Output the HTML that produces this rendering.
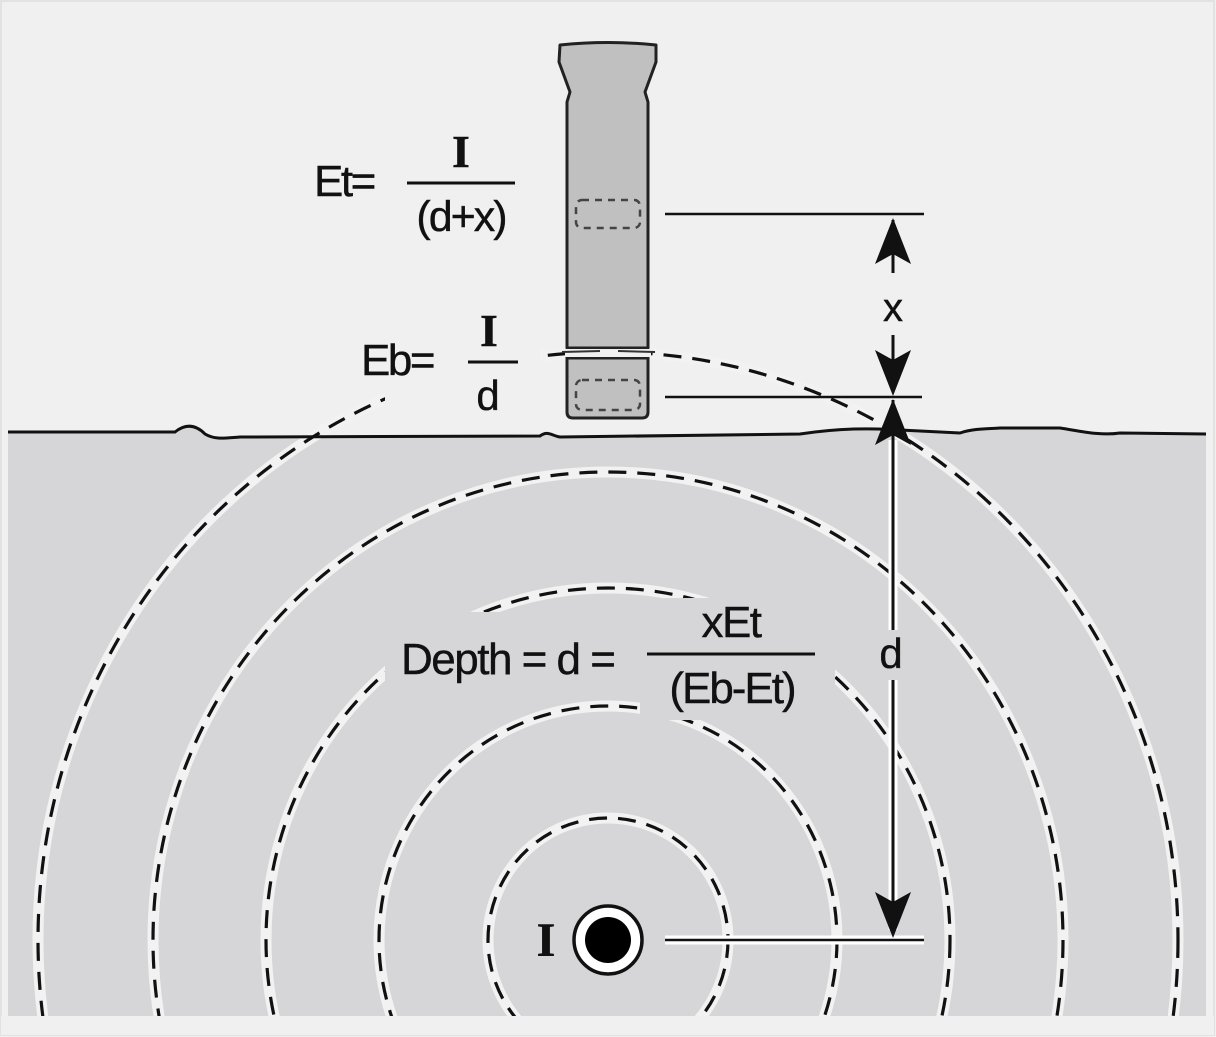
<!DOCTYPE html>
<html><head><meta charset="utf-8"><style>
html,body{margin:0;padding:0;background:#f0f0f0;overflow:hidden;width:1216px;height:1037px;}
svg{display:block;position:absolute;left:0;top:0;}
text{font-family:"Liberation Sans",sans-serif;fill:#111;stroke:#111;stroke-width:0.4;}
.serif{font-family:"Liberation Serif",serif;font-weight:bold;}
</style></head><body>
<svg width="1216" height="1037" viewBox="0 0 1216 1037" xmlns="http://www.w3.org/2000/svg">
<defs>
<clipPath id="cl"><rect x="8" y="0" width="1198" height="1016"/></clipPath>
</defs>
<rect x="0" y="0" width="1216" height="1037" fill="#f0f0f0"/>
<rect x="1" y="1" width="1213" height="1034" fill="none" stroke="#e2e2e2" stroke-width="2"/>
<path d="M8,432 L175,432 C185,424 195,424 205,434 C215,440 225,438 240,437 L540,436 C548,430 552,436 560,437 L800,434 C840,428 870,428 900,430 L960,433 C975,428 990,429 1000,428 L1060,428 C1080,431 1100,436 1120,433 L1206,434 L1206,1016 L8,1016 Z" fill="#d6d6d8"/>
<g clip-path="url(#cl)" fill="none">
 <g stroke="#f2f2f2" stroke-width="11">
  <ellipse cx="608" cy="940" rx="120" ry="122"/>
  <ellipse cx="608" cy="940" rx="229" ry="234"/>
  <ellipse cx="608" cy="940" rx="342" ry="352"/>
  <ellipse cx="608" cy="940" rx="455" ry="468"/>
  <ellipse cx="608" cy="940" rx="570" ry="588"/>
 </g>
 <g stroke="#111" stroke-width="3.2" stroke-dasharray="18 11">
  <ellipse cx="608" cy="940" rx="120" ry="122"/>
  <ellipse cx="608" cy="940" rx="229" ry="234"/>
  <ellipse cx="608" cy="940" rx="342" ry="352"/>
  <ellipse cx="608" cy="940" rx="455" ry="468"/>
  <ellipse cx="608" cy="940" rx="570" ry="588"/>
 </g>
</g>
<rect x="385" y="612" width="255" height="82" fill="#d6d6d8"/>
<rect x="640" y="598" width="195" height="122" fill="#d6d6d8"/>
<rect x="385" y="318" width="155" height="100" fill="#f0f0f0"/>
<rect x="1" y="1016" width="1213" height="19" fill="#f0f0f0"/>
<path d="M8,432 L175,432 C185,424 195,424 205,434 C215,440 225,438 240,437 L540,436 C548,430 552,436 560,437 L800,434 C840,428 870,428 900,430 L960,433 C975,428 990,429 1000,428 L1060,428 C1080,431 1100,436 1120,433 L1206,434" fill="none" stroke="#111" stroke-width="3"/>
<path d="M560,45 Q608,40 656,45 L656,62 L645,92 L648,102 L648,348 L567,348 L567,102 L570,92 L559,62 Z" fill="#c0c0c0" stroke="#222" stroke-width="3" stroke-linejoin="round"/>
<path d="M567,358 L648,358 L648,412 Q648,418 642,418 L573,418 Q567,418 567,412 Z" fill="#c0c0c0" stroke="#222" stroke-width="3"/>
<rect x="565" y="349" width="86" height="8" fill="#f0f0f0"/>
<path d="M562,352 L600,351 M618,351 L655,352" stroke="#333" stroke-width="2"/>
<rect x="576" y="200" width="64" height="28" rx="6" fill="none" stroke="#444" stroke-width="2.5" stroke-dasharray="7 6"/>
<rect x="576" y="380" width="64" height="30" rx="6" fill="none" stroke="#444" stroke-width="2.5" stroke-dasharray="7 6"/>
<line x1="665" y1="214" x2="924" y2="214" stroke="#111" stroke-width="2.5"/>
<line x1="665" y1="397" x2="922" y2="397" stroke="#111" stroke-width="2.5"/>
<line x1="665" y1="940" x2="924" y2="940" stroke="#fff" stroke-width="9"/>
<line x1="665" y1="940" x2="924" y2="940" stroke="#111" stroke-width="2.5"/>
<line x1="893" y1="220" x2="893" y2="273" stroke="#111" stroke-width="3"/>
<path d="M893,218 L911,264 L893,254 L875,264 Z" fill="#111"/>
<line x1="893" y1="335" x2="893" y2="392" stroke="#111" stroke-width="3"/>
<path d="M893,396 L911,350 L893,360 L875,350 Z" fill="#111"/>
<line x1="893" y1="440" x2="893" y2="630" stroke="#fff" stroke-width="9"/>
<line x1="893" y1="680" x2="893" y2="930" stroke="#fff" stroke-width="9"/>
<line x1="893" y1="400" x2="893" y2="630" stroke="#111" stroke-width="3"/>
<line x1="893" y1="680" x2="893" y2="930" stroke="#111" stroke-width="3"/>
<path d="M893,399 L911,445 L893,435 L875,445 Z" fill="#111"/>
<path d="M893,938 L911,892 L893,902 L875,892 Z" fill="#111"/>
<text x="893" y="321" font-size="40" text-anchor="middle">x</text>
<text x="891" y="668" font-size="42" text-anchor="middle">d</text>
<text x="314" y="196" font-size="44" letter-spacing="-2.5">Et=</text>
<text x="461" y="167" font-size="46" class="serif" text-anchor="middle">I</text>
<line x1="407" y1="183" x2="515" y2="183" stroke="#111" stroke-width="3"/>
<text x="461" y="231" font-size="43" text-anchor="middle" letter-spacing="-2">(d+x)</text>
<text x="361" y="375" font-size="44" letter-spacing="-2.5">Eb=</text>
<text x="489" y="346" font-size="46" class="serif" text-anchor="middle">I</text>
<line x1="468" y1="362" x2="518" y2="362" stroke="#111" stroke-width="3"/>
<text x="488" y="410" font-size="42" text-anchor="middle">d</text>
<text x="401" y="674" font-size="44" letter-spacing="-1.5">Depth = d =</text>
<text x="731" y="637" font-size="44" text-anchor="middle" letter-spacing="-1.5">xEt</text>
<line x1="647" y1="654" x2="815" y2="654" stroke="#111" stroke-width="3"/>
<text x="732" y="703" font-size="44" text-anchor="middle" letter-spacing="-2">(Eb-Et)</text>
<text x="546" y="956" font-size="48" class="serif" text-anchor="middle">I</text>
<circle cx="608" cy="940" r="34" fill="#fff" stroke="#111" stroke-width="3.5"/>
<circle cx="608" cy="940" r="23" fill="#000"/>
</svg>
</body></html>
